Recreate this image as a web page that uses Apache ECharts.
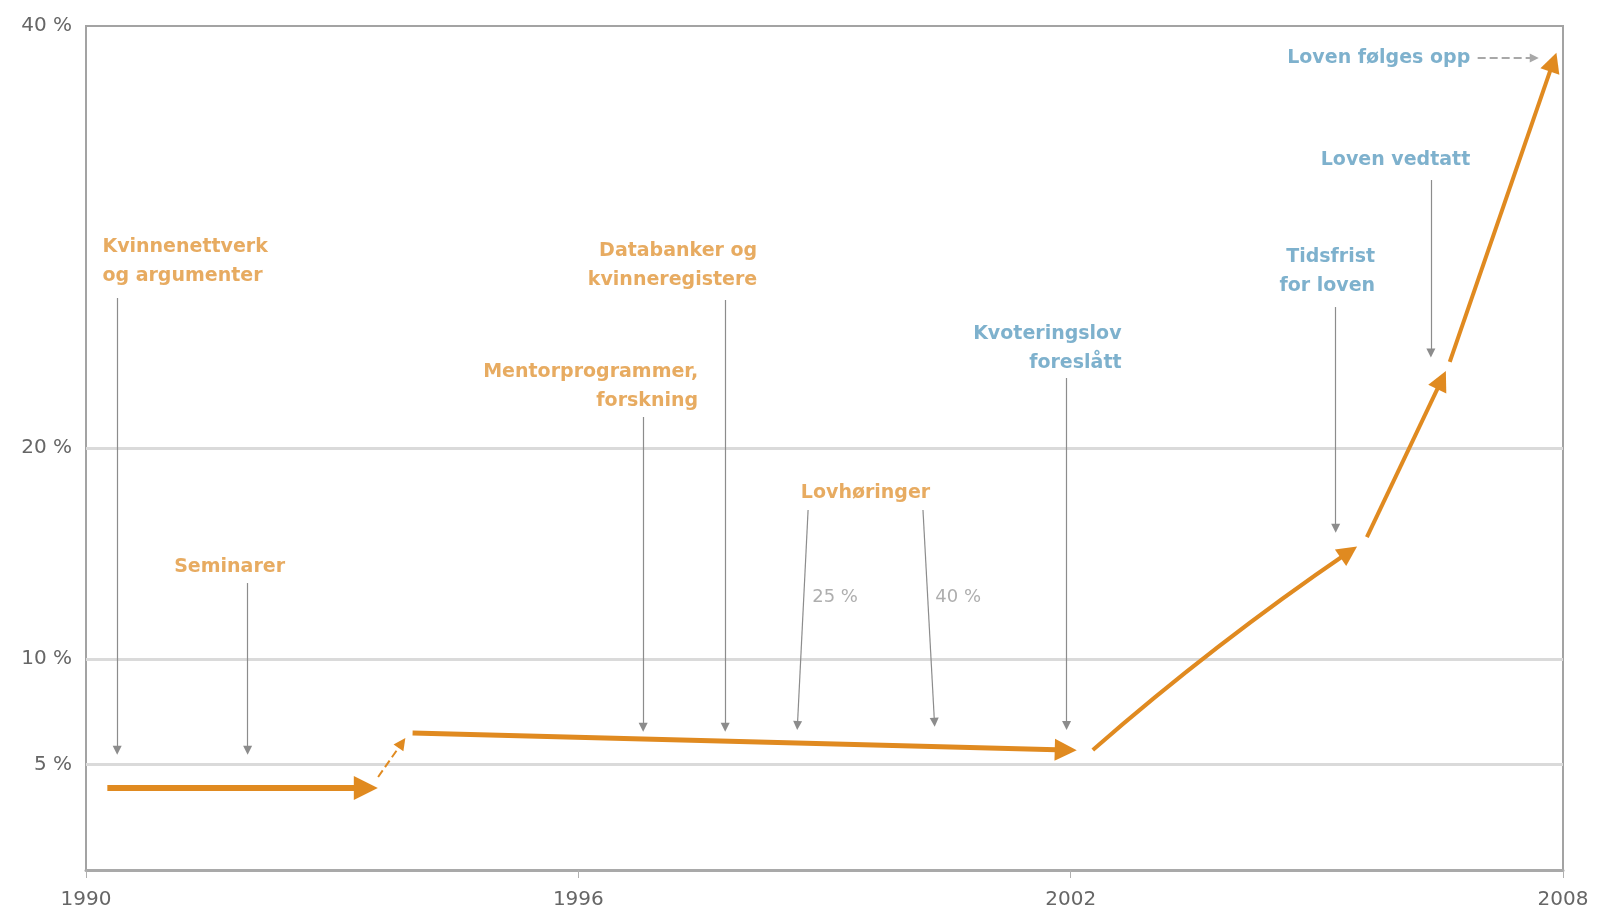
<!DOCTYPE html>
<html>
<head>
<meta charset="utf-8">
<script src="https://cdn.jsdelivr.net/npm/echarts@6.0.0/dist/echarts.min.js"></script>
<style>
html,body{margin:0;padding:0;background:#fff}
#c{width:1597px;height:917px}
</style>
</head>
<body>
<div id="c"></div>
<script>
// ---- axis ticks ----
const xTicks = [1990, 1996, 2002, 2008];
const yTicks = [5, 10, 20, 40];
const gridValues = [5, 10, 20];

// ---- main trend (orange arrows): [year, percent] ----
const trendFrom = [[1990.26, 3.89], [1993.56, 4.41], [1993.98, 6.49], [2002.27, 5.69], [2005.61, 15.78], [2006.62, 24.08]];
const trendTo   = [[1993.41, 3.89], [1993.85, 6.02], [2001.94, 5.69], [2005.39, 15.07], [2006.52, 23.22], [2007.88, 38.29]];

// ---- annotation pointer arrows (grey): [year, percent] ----
const noteArrowFrom = [[1990.38, 27.11], [1991.97, 13.6], [1996.79, 21.47], [1997.79, 27.01], [1998.8, 17.06], [2000.2, 17.06], [2001.95, 23.32], [2005.23, 26.68], [2006.39, 32.7], [2006.96, 38.48]];
const noteArrowTo   = [[1990.38, 5.67],  [1991.97, 5.67], [1996.79, 6.76],  [1997.79, 6.76],  [1998.67, 6.85], [2000.34, 7.0],  [2001.95, 6.85],  [2005.23, 16.2],  [2006.39, 24.5], [2007.65, 38.48]];

// ---- annotation texts ----
const noteTexts = ['Kvinnenettverk\nog argumenter', 'Seminarer', 'Mentorprogrammer,\nforskning', 'Databanker og\nkvinneregistere', 'Lovhøringer', 'Kvoteringslov\nforeslått', 'Tidsfrist\nfor loven', 'Loven vedtatt', 'Loven følges opp'];
const notePos = [[1990.2, 28.82], [1991.75, 14.36], [1997.46, 22.89], [1998.18, 28.63], [1999.5, 17.87], [2002.62, 24.69], [2005.71, 28.34], [2006.87, 33.65], [2006.87, 38.48]];
const quotaTexts = ['25 %', '40 %'];
const quotaPos = [[1998.85, 12.94], [2000.35, 12.94]];

// ---- styles ----
const FONT = 'DejaVu Sans';
const ORANGE = '#E08A20';
const ORANGE_TEXT = '#E1963A';
const BLUE = '#5E9EC1';
const GRAY = '#8c8c8c';
const trendWidth = [6, 2, 5, 4, 4, 4];
const trendHead = [24, 12, 22, 20, 20, 20];
const trendCurve = [0, 0, 0, 0.03, 0, 0];
const noteAlign = ['left', 'center', 'right', 'right', 'center', 'right', 'right', 'right', 'right'];
const noteBlue = [false, false, false, false, false, true, true, true, true];

const chart = echarts.init(document.getElementById('c'));

const trendData = trendFrom.map((p, i) => ({
  coords: [p, trendTo[i]],
  symbol: ['none', 'triangle'],
  symbolSize: [0, trendHead[i]],
  lineStyle: { width: trendWidth[i], color: ORANGE, type: i === 1 ? 'dashed' : 'solid', curveness: trendCurve[i], opacity: 1 }
}));

const noteArrowData = noteArrowFrom.map((p, i) => {
  const last = i === noteArrowFrom.length - 1;
  return {
    coords: [p, noteArrowTo[i]],
    symbol: ['none', 'triangle'],
    symbolSize: [0, 9],
    lineStyle: { width: last ? 2 : 1.2, color: last ? '#a8a8a8' : GRAY, type: last ? 'dashed' : 'solid', opacity: 1 }
  };
});

const noteData = noteTexts.map((t, i) => ({
  value: notePos[i],
  label: { formatter: t, align: noteAlign[i], color: noteBlue[i] ? BLUE : ORANGE_TEXT }
}));

const quotaData = quotaTexts.map((t, i) => ({
  value: quotaPos[i],
  label: { formatter: t, align: 'left', color: '#9a9a9a', fontWeight: 'normal', fontSize: 18 }
}));

chart.setOption({
  animation: false,
  backgroundColor: '#fff',
  grid: { left: 86, right: 34, top: 26, bottom: 47, show: true, borderColor: '#a3a3a3', borderWidth: 2, outerBoundsMode: 'none' },
  xAxis: {
    type: 'value', min: 1990, max: 2008,
    axisLine: { show: true, lineStyle: { color: '#a9a9a9', width: 3 } },
    axisTick: { show: true, customValues: xTicks, length: 8, lineStyle: { color: '#b0b0b0', width: 1 } },
    axisLabel: { customValues: xTicks, formatter: v => String(v), color: '#666', fontFamily: FONT, fontSize: 20, margin: 20 },
    splitLine: { show: false }
  },
  yAxis: {
    type: 'value', min: 0, max: 40,
    axisLine: { show: true, lineStyle: { color: '#a3a3a3', width: 2 } },
    axisTick: { show: false },
    axisLabel: { customValues: yTicks, formatter: v => v + ' %', color: '#666', fontFamily: FONT, fontSize: 20, margin: 14 },
    splitLine: { show: false }
  },
  series: [
    {
      type: 'scatter', z: 4, silent: true,
      symbolSize: 1, itemStyle: { color: 'transparent' },
      label: { show: true, position: 'inside', verticalAlign: 'middle', fontFamily: FONT, fontWeight: 'bold', fontSize: 19, lineHeight: 29 },
      data: noteData.concat(quotaData),
      markLine: {
        z: 1, silent: true, symbol: ['none', 'none'], label: { show: false },
        lineStyle: { color: '#dadada', width: 3, type: 'solid' },
        data: gridValues.map(v => ({ yAxis: v }))
      }
    },
    {
      type: 'lines', coordinateSystem: 'cartesian2d', z: 3, silent: true,
      data: noteArrowData
    },
    {
      type: 'lines', coordinateSystem: 'cartesian2d', z: 3, silent: true,
      data: trendData
    }
  ]
});
</script>
</body>
</html>
